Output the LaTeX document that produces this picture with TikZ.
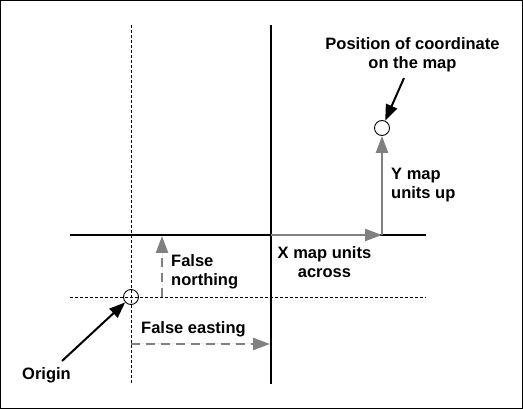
\documentclass[tikz,border=0pt]{standalone}
\usepackage{fontspec}
\setmainfont{Liberation Sans}
\usepackage{xcolor}
\definecolor{mapgrey}{RGB}{128,128,128}
\usetikzlibrary{arrows.meta}

\begin{document}
\begin{tikzpicture}[x=1pt,y=-1pt,
      axis/.style={line width=2pt,draw=black},
      guide/.style={line width=0.8pt,dash pattern=on 3pt off 2pt},
      spot/.style={circle,draw,line width=0.9pt,minimum size=15pt,inner sep=0pt},
      pointer/.style={-{Triangle[length=16pt,width=12pt]},line width=2pt},
      unitarrow/.style={-{Triangle[length=17pt,width=12pt]},line width=2.4pt,draw=mapgrey,fill=mapgrey},
      offsetarrow/.style={unitarrow,dash pattern=on 9pt off 6pt},
      lbl/.style={font=\fontsize{16.5}{18.5}\selectfont\bfseries,inner sep=0pt}
    ]
    \useasboundingbox (0,0) rectangle (523,409);
    \draw[line width=1pt] (0.5,0.5) rectangle (522.5,408.5);
    % grid lines
    \coordinate (falseN) at (131,25);
    \coordinate (falseS) at (131,384);
    \coordinate (falseW) at (70,297);
    \coordinate (falseE) at (426,297);
    \coordinate (axisN) at (271,25);
    \coordinate (axisS) at (271,384);
    \coordinate (axisW) at (70,235);
    \coordinate (axisE) at (426,235);
    \draw[guide] (falseN) -- (falseS);
    \draw[guide] (falseW) -- (falseE);
    \draw[axis] (axisN) -- (axisS);
    \draw[axis] (axisW) -- (axisE);
    % points
    \node[spot] at (131,297) (origin) {};
    \node[spot] at (382,128) (target) {};
    \coordinate (cross) at (271,235);
    \coordinate (corner) at (382,235);
    \draw[unitarrow] (cross) -- (corner);
    \draw[unitarrow] (corner) -- (target);
    % false offsets
    \coordinate (northTail) at (162,297);
    \coordinate (northTip) at (162,236);
    \coordinate (eastTail) at (131,344);
    \coordinate (eastTip) at (270,344);
    \draw[offsetarrow] (northTail) -- (northTip);
    \draw[offsetarrow] (eastTail) -- (eastTip);
    % labels (base = last line)
    \node[lbl,anchor=base,align=center] at (412.5,68.5) (poslbl) {Position of coordinate\\on the map};
    \node[lbl,anchor=base west,align=left] at (391,198.5) (ylbl) {Y map\\units up};
    \node[lbl,anchor=base,align=center] at (324.5,277.5) (xlbl) {X map units\\across};
    \node[lbl,anchor=base west,align=left] at (171,285.5) (northlbl) {False\\northing};
    \node[lbl,anchor=base west] at (141,334) (eastlbl) {False easting};
    \node[lbl,anchor=base west] at (22,380) (originlbl) {Origin};
    \coordinate (originTail) at (62,361);
    \coordinate (targetTail) at (404,78);
    \draw[pointer] (originTail) -- (origin);
    \draw[pointer] (targetTail) -- (target);
  \end{tikzpicture}
\end{document}
